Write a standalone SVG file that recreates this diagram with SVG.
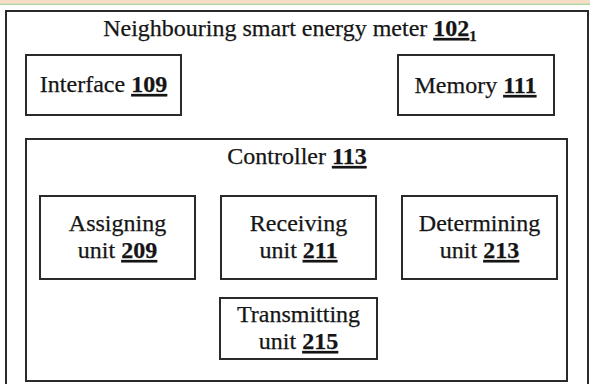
<svg xmlns="http://www.w3.org/2000/svg" width="590" height="384" viewBox="0 0 590 384">
<style>
.box{fill:#fff;stroke:#2a2a2a;stroke-width:2}
.t{font-family:"Liberation Serif","Times New Roman",serif;font-size:24px;fill:#151515;stroke:#151515;stroke-width:0.25;text-anchor:middle}
.n{font-weight:bold;text-decoration:underline}
</style>
<rect x="0" y="0" width="590" height="384" fill="#fff"/>
<rect x="0" y="0" width="590" height="3.5" fill="#f8dcc5"/>
<rect x="0" y="3.5" width="590" height="1.5" fill="#b3d39c"/>
<g id="meter">
<rect class="box" x="6" y="11" width="582" height="400" stroke-width="2.4"/>
<text class="t" x="290" y="36" font-size="23">Neighbouring smart energy meter <tspan class="n">102</tspan><tspan font-weight="bold" font-size="15" dy="5">1</tspan></text>
</g>
<g id="interface">
<rect class="box" x="26" y="55" width="155" height="60"/>
<text class="t" x="103.5" y="92">Interface <tspan class="n">109</tspan></text>
</g>
<g id="memory">
<rect class="box" x="398" y="55" width="156" height="60"/>
<text class="t" x="475.5" y="93">Memory <tspan class="n">111</tspan></text>
</g>
<g id="controller">
<rect class="box" x="26" y="139" width="541" height="242"/>
<text class="t" x="297" y="164">Controller <tspan class="n">113</tspan></text>
</g>
<g id="assigning">
<rect class="box" x="40" y="196" width="155" height="83"/>
<text class="t" x="117.5" y="231">Assigning</text>
<text class="t" x="117.5" y="258">unit <tspan class="n">209</tspan></text>
</g>
<g id="receiving">
<rect class="box" x="221" y="196" width="155" height="83"/>
<text class="t" x="298.5" y="231">Receiving</text>
<text class="t" x="298.5" y="258">unit <tspan class="n">211</tspan></text>
</g>
<g id="determining">
<rect class="box" x="402" y="196" width="155" height="83"/>
<text class="t" x="479.5" y="231">Determining</text>
<text class="t" x="479.5" y="258">unit <tspan class="n">213</tspan></text>
</g>
<g id="transmitting">
<rect class="box" x="220" y="298" width="157" height="61"/>
<text class="t" x="298.5" y="322" font-size="23">Transmitting</text>
<text class="t" x="298.5" y="349" font-size="23">unit <tspan class="n">215</tspan></text>
</g>
<g id="connectors"></g>
</svg>
